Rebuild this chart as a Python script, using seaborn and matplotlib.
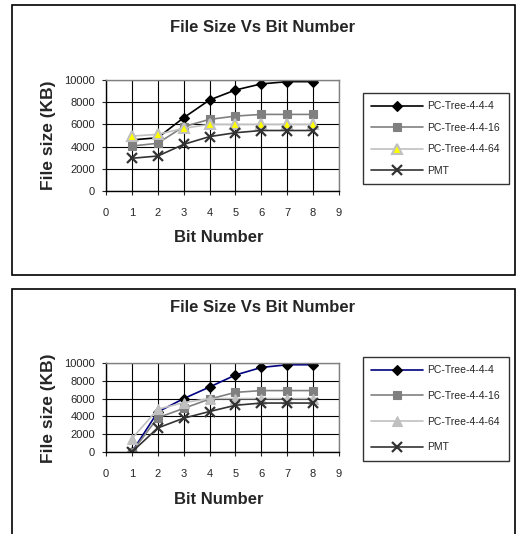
import matplotlib
matplotlib.use("Agg")
import matplotlib.pyplot as plt
from matplotlib.patches import Rectangle
import seaborn as sns
import pandas as pd

# data
bits = [1, 2, 3, 4, 5, 6, 7, 8]
series_names = ["PC-Tree-4-4-4", "PC-Tree-4-4-16", "PC-Tree-4-4-64", "PMT"]

top_tree_444 = [4600, 4800, 6600, 8200, 9100, 9650, 9850, 9850]
top_tree_4416 = [4050, 4300, 5800, 6450, 6750, 6900, 6900, 6900]
top_tree_4464 = [4950, 5100, 5650, 6000, 6000, 6000, 6000, 6000]
top_pmt = [2950, 3150, 4200, 4900, 5250, 5450, 5450, 5450]

bot_tree_444 = [0, 4500, 6000, 7300, 8650, 9500, 9800, 9800]
bot_tree_4416 = [0, 3850, 4900, 5950, 6700, 6900, 6900, 6900]
bot_tree_4464 = [1500, 4800, 5550, 6000, 6000, 6000, 6000, 6000]
bot_pmt = [0, 2700, 3800, 4550, 5250, 5500, 5500, 5500]

x_ticks = list(range(0, 10))
y_ticks = [0, 2000, 4000, 6000, 8000, 10000]

sns.set_style("white")
plt.rcParams['font.family'] = ['Liberation Sans', 'DejaVu Sans']

W, H = 525, 534
fig = plt.figure(figsize=(W / 100, H / 100), dpi=100)


def fx(px):
    return px / W


def fy(py):
    return 1 - py / H


def draw_panel(values, styles, box, ax_box, title_y, xlabel_y, ylabel_y, leg_box, leg_spacing):
    # outer border of the panel
    x0, y0, x1, y1 = box
    fig.patches.append(Rectangle((fx(x0), fy(y1)), fx(x1 - x0), (y1 - y0) / H,
                                 transform=fig.transFigure, fill=False,
                                 edgecolor='black', linewidth=1.2))
    l, t, r, b = ax_box
    ax = fig.add_axes([fx(l), fy(b), fx(r - l), (b - t) / H])

    df = pd.DataFrame({'bit': bits * 4,
                       'size': sum(values, []),
                       'series': sum([[n] * len(bits) for n in series_names], [])})
    for name, st in zip(series_names, styles):
        sub = df[df['series'] == name]
        sns.lineplot(data=sub, x='bit', y='size', ax=ax, label=name,
                     color=st['line'], marker=st['marker'], markersize=st['ms'],
                     markerfacecolor=st['face'], markeredgecolor=st['edge'],
                     markeredgewidth=st.get('mew', 0.8), linewidth=1.2)

    ax.set_xlim(0, 9)
    ax.set_ylim(0, 10000)
    ax.set_xticks(x_ticks)
    ax.set_yticks(y_ticks)
    ax.set_xticklabels([str(v) for v in x_ticks])
    ax.set_yticklabels([str(v) for v in y_ticks])
    ax.tick_params(labelsize=8, direction='out', length=3, width=0.8,
                   bottom=True, left=True)
    ax.tick_params(axis='x', pad=9)
    ax.tick_params(axis='y', pad=5)
    ax.grid(True, color='black', linewidth=0.8)
    ax.set_axisbelow(True)
    for side in ['left', 'bottom']:
        ax.spines[side].set_color('black')
        ax.spines[side].set_linewidth(1.0)
    for side in ['top', 'right']:
        ax.spines[side].set_color('#808080')
        ax.spines[side].set_linewidth(1.0)
    ax.set_xlabel('')
    ax.set_ylabel('')

    fig.text(fx(263), fy(title_y), 'File Size Vs Bit Number', ha='center', va='center',
             fontsize=12, fontweight='bold')
    fig.text(fx(219), fy(xlabel_y), 'Bit Number', ha='center', va='center',
             fontsize=12, fontweight='bold')
    fig.text(fx(48), fy(ylabel_y), 'File size (KB)', ha='center', va='center',
             rotation=90, fontsize=12.5, fontweight='heavy')

    lx, ly = leg_box
    leg = ax.legend(loc='upper left', bbox_to_anchor=(fx(lx), fy(ly)),
                    bbox_transform=fig.transFigure, fontsize=7.5, frameon=True,
                    fancybox=False, handlelength=5.0, handletextpad=0.4,
                    labelspacing=leg_spacing, borderpad=0.8, borderaxespad=0)
    leg.get_frame().set_edgecolor('black')
    leg.get_frame().set_linewidth(1.0)
    return ax


top_styles = [
    dict(line='black', marker='D', ms=5.5, face='black', edge='black'),
    dict(line='#808080', marker='s', ms=6, face='#808080', edge='#808080'),
    dict(line='#c0c0c0', marker='^', ms=6.5, face='#ffff00', edge='#c0c0c0', mew=1.5),
    dict(line='#333333', marker='x', ms=7, face='#333333', edge='#333333', mew=1.6),
]
bot_styles = [
    dict(line='#000080', marker='D', ms=5.5, face='black', edge='black'),
    dict(line='#808080', marker='s', ms=6, face='#808080', edge='#808080'),
    dict(line='#c0c0c0', marker='^', ms=6.5, face='#c0c0c0', edge='#c0c0c0'),
    dict(line='#333333', marker='x', ms=7, face='#333333', edge='#333333', mew=1.6),
]

draw_panel([top_tree_444, top_tree_4416, top_tree_4464, top_pmt], top_styles,
           box=(12, 5, 515, 275), ax_box=(106, 80, 339, 191),
           title_y=27, xlabel_y=238, ylabel_y=135, leg_box=(363, 93), leg_spacing=1.1)
draw_panel([bot_tree_444, bot_tree_4416, bot_tree_4464, bot_pmt], bot_styles,
           box=(12, 289, 515, 540), ax_box=(106, 363, 339, 452),
           title_y=308, xlabel_y=500, ylabel_y=408, leg_box=(363, 357), leg_spacing=1.5)

fig.savefig('out.png', dpi=100)
